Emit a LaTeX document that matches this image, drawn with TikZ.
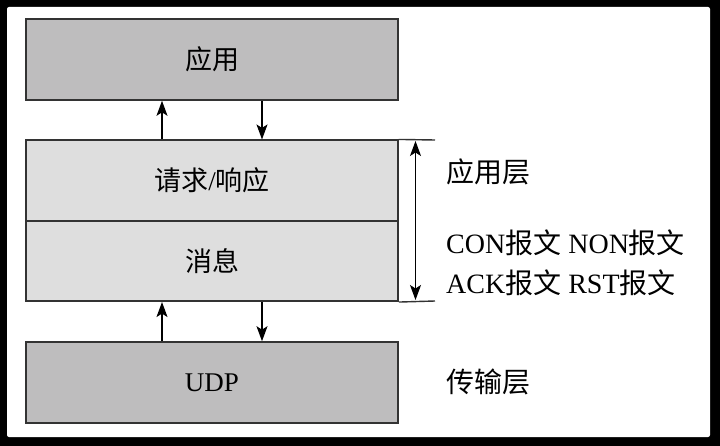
\documentclass[tikz,border=0pt]{standalone}
\usepackage{fontspec}
\setmainfont{Liberation Serif}
\newfontfamily\cjk{Noto Sans CJK SC}
\usetikzlibrary{arrows.meta}
\definecolor{darkbox}{HTML}{BEBDBE}
\definecolor{lightbox}{HTML}{DEDEDE}
\definecolor{edge}{HTML}{333333}
\begin{document}
\begin{tikzpicture}[x=1pt,y=-1pt,
  layerbox/.style={draw=edge,line width=1.6pt,minimum width=372pt,minimum height=81pt,inner sep=0pt,font=\fontsize{27}{30}\selectfont},
  arr/.style={line width=1.2pt,-{Stealth[length=15pt,width=11pt,inset=3.5pt]}},
  darr/.style={line width=1.2pt,{Stealth[length=15pt,width=11pt,inset=3.5pt]}-{Stealth[length=15pt,width=11pt,inset=3.5pt]}},
  side/.style={anchor=west,inner sep=0pt,font=\fontsize{28}{32}\selectfont,align=left}]
\fill[black] (0,0) rectangle (720,446);
\fill[white,rounded corners=2pt] (7,7) rectangle (710,437);
\useasboundingbox (0,0) rectangle (720,446);
\node[layerbox,fill=darkbox] (app) at (212,59.5) {{\cjk 应用}};
\node[layerbox,fill=lightbox,minimum height=80.5pt] (req) at (212,180.5) {{\cjk 请求}/{\cjk 响应}};
\node[layerbox,fill=lightbox,minimum height=80.5pt] (msg) at (212,261) {{\cjk 消息}};
\node[layerbox,fill=darkbox] (udp) at (212,382.5) {UDP};
\coordinate (ux) at (162,0);
\coordinate (dx) at (262,0);
\draw[arr] (req.north -| ux) -- (app.south -| ux);
\draw[arr] (app.south -| dx) -- (req.north -| dx);
\draw[arr] (udp.north -| ux) -- (msg.south -| ux);
\draw[arr] (msg.south -| dx) -- (udp.north -| dx);
\coordinate (tr) at (435,140);
\coordinate (br) at (435,301);
\draw[line width=1.4pt,edge] (req.north east) -- (tr);
\draw[line width=1.4pt,edge] (msg.south east) -- (br);
\coordinate (vt) at (415.5,141);
\coordinate (vb) at (415.5,300);
\draw[darr] (vt) -- (vb);
\node[side] (l1) at (446,172) {{\cjk 应用层}};
\node[side] (l2) at (446,243) {CON{\cjk 报文} NON{\cjk 报文}};
\node[side] (l3) at (446,283) {ACK{\cjk 报文} RST{\cjk 报文}};
\node[side] (l4) at (446,382) {{\cjk 传输层}};
\end{tikzpicture}
\end{document}
